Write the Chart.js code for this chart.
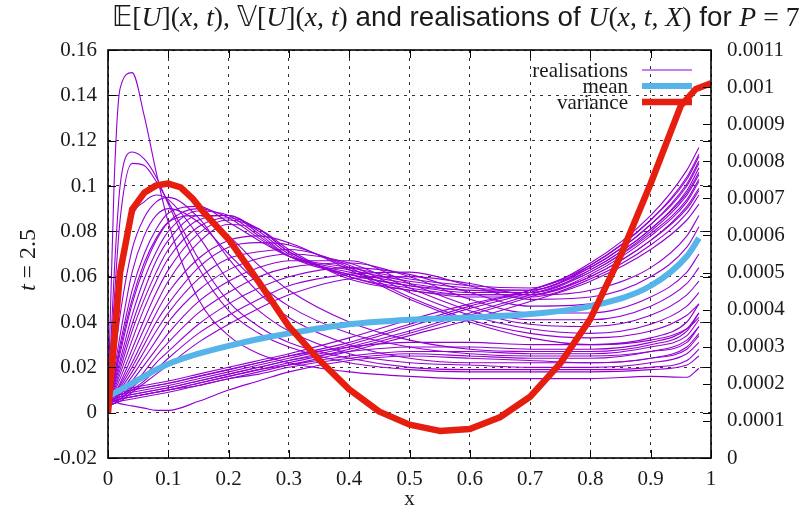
<!DOCTYPE html>
<html lang="en">
<head>
<meta charset="UTF-8">
<script src="https://cdn.jsdelivr.net/npm/chart.js"></script>
<style>
  html, body { margin: 0; padding: 0; background: #fff; }
  #wrap { width: 803px; height: 510px; position: relative; }
</style>
</head>
<body>
<div id="wrap"><canvas id="chart"></canvas></div>
<script>
// x positions shared by the realisations and the mean
const xGrid = [0, 0.01, 0.02, 0.04, 0.06, 0.08, 0.1, 0.15, 0.2, 0.25, 0.3, 0.4, 0.5, 0.6, 0.7, 0.8, 0.9, 0.96, 0.98];

// realisations of U(x, t, X), one row per sample
const realisations = [
  [0.004, 0.100, 0.143, 0.150, 0.131, 0.106, 0.084, 0.050, 0.034, 0.026, 0.022, 0.018, 0.016, 0.015, 0.015, 0.015, 0.016, 0.0156, 0.0196],
  [0.004, 0.060, 0.100, 0.115, 0.112, 0.104, 0.092, 0.064, 0.045, 0.035, 0.029, 0.022, 0.019, 0.018, 0.018, 0.018, 0.019, 0.021, 0.025],
  [0.004, 0.048, 0.085, 0.110, 0.109, 0.102, 0.093, 0.068, 0.049, 0.038, 0.031, 0.024, 0.020, 0.019, 0.019, 0.019, 0.020, 0.023, 0.028],
  [0.004, 0.030, 0.058, 0.086, 0.093, 0.096, 0.094, 0.078, 0.058, 0.045, 0.036, 0.026, 0.022, 0.021, 0.020, 0.020, 0.022, 0.026, 0.031],
  [0.004, 0.022, 0.043, 0.072, 0.086, 0.093, 0.095, 0.086, 0.068, 0.053, 0.042, 0.030, 0.024, 0.022, 0.022, 0.022, 0.024, 0.029, 0.035],
  [0.004, 0.018, 0.034, 0.062, 0.078, 0.087, 0.090, 0.084, 0.070, 0.057, 0.047, 0.035, 0.029, 0.026, 0.025, 0.025, 0.027, 0.031, 0.038],
  [0.004, 0.015, 0.028, 0.050, 0.066, 0.077, 0.084, 0.087, 0.078, 0.065, 0.054, 0.040, 0.032, 0.028, 0.027, 0.027, 0.030, 0.036, 0.044],
  [0.004, 0.016, 0.030, 0.054, 0.070, 0.081, 0.088, 0.091, 0.084, 0.076, 0.069, 0.064, 0.059, 0.056, 0.055, 0.066, 0.087, 0.107, 0.117],
  [0.004, 0.014, 0.026, 0.048, 0.064, 0.076, 0.084, 0.090, 0.086, 0.077, 0.069, 0.063, 0.058, 0.055, 0.054, 0.065, 0.085, 0.104, 0.114],
  [0.004, 0.013, 0.023, 0.043, 0.059, 0.071, 0.080, 0.089, 0.087, 0.078, 0.069, 0.062, 0.057, 0.054, 0.054, 0.064, 0.083, 0.101, 0.111],
  [0.004, 0.012, 0.021, 0.039, 0.054, 0.067, 0.076, 0.087, 0.087, 0.079, 0.069, 0.061, 0.056, 0.054, 0.053, 0.063, 0.081, 0.098, 0.108],
  [0.004, 0.011, 0.019, 0.036, 0.050, 0.062, 0.072, 0.085, 0.087, 0.080, 0.070, 0.061, 0.056, 0.053, 0.053, 0.062, 0.080, 0.096, 0.105],
  [0.004, 0.010, 0.017, 0.032, 0.046, 0.058, 0.068, 0.082, 0.086, 0.081, 0.071, 0.060, 0.055, 0.052, 0.052, 0.061, 0.078, 0.093, 0.102],
  [0.004, 0.009, 0.015, 0.028, 0.041, 0.053, 0.063, 0.079, 0.085, 0.081, 0.071, 0.060, 0.054, 0.052, 0.052, 0.060, 0.076, 0.091, 0.099],
  [0.004, 0.008, 0.013, 0.025, 0.037, 0.048, 0.058, 0.075, 0.083, 0.081, 0.072, 0.059, 0.054, 0.051, 0.051, 0.059, 0.074, 0.088, 0.096],
  [0.004, 0.007, 0.012, 0.022, 0.033, 0.044, 0.053, 0.068, 0.076, 0.078, 0.075, 0.063, 0.050, 0.040, 0.033, 0.030, 0.032, 0.037, 0.042],
  [0.004, 0.007, 0.011, 0.020, 0.030, 0.040, 0.048, 0.064, 0.073, 0.075, 0.074, 0.064, 0.051, 0.041, 0.035, 0.033, 0.036, 0.043, 0.048],
  [0.004, 0.006, 0.010, 0.018, 0.027, 0.036, 0.044, 0.059, 0.068, 0.071, 0.072, 0.065, 0.053, 0.043, 0.037, 0.035, 0.039, 0.047, 0.053],
  [0.004, 0.006, 0.009, 0.016, 0.024, 0.032, 0.040, 0.054, 0.063, 0.068, 0.070, 0.066, 0.055, 0.045, 0.039, 0.038, 0.043, 0.052, 0.058],
  [0.004, 0.006, 0.008, 0.014, 0.021, 0.028, 0.035, 0.049, 0.058, 0.064, 0.067, 0.067, 0.057, 0.047, 0.041, 0.041, 0.047, 0.057, 0.064],
  [0.003, 0.005, 0.007, 0.012, 0.018, 0.025, 0.031, 0.044, 0.053, 0.060, 0.064, 0.066, 0.060, 0.050, 0.044, 0.044, 0.051, 0.062, 0.070],
  [0.003, 0.004, 0.006, 0.011, 0.016, 0.022, 0.027, 0.039, 0.048, 0.055, 0.060, 0.064, 0.061, 0.053, 0.047, 0.048, 0.056, 0.068, 0.076],
  [0.003, 0.004, 0.006, 0.010, 0.014, 0.019, 0.024, 0.035, 0.043, 0.050, 0.056, 0.061, 0.062, 0.056, 0.050, 0.051, 0.060, 0.073, 0.082],
  [0.003, 0.004, 0.005, 0.009, 0.013, 0.017, 0.021, 0.031, 0.039, 0.046, 0.052, 0.059, 0.060, 0.057, 0.052, 0.054, 0.064, 0.078, 0.087],
  [0.008, 0.009, 0.010, 0.011, 0.012, 0.013, 0.014, 0.017, 0.020, 0.023, 0.026, 0.033, 0.041, 0.048, 0.054, 0.064, 0.083, 0.100, 0.110],
  [0.007, 0.008, 0.009, 0.010, 0.011, 0.012, 0.013, 0.016, 0.019, 0.022, 0.025, 0.031, 0.039, 0.047, 0.054, 0.065, 0.085, 0.103, 0.113],
  [0.006, 0.007, 0.008, 0.009, 0.010, 0.011, 0.012, 0.015, 0.018, 0.021, 0.024, 0.030, 0.038, 0.046, 0.053, 0.063, 0.081, 0.097, 0.106],
  [0.005, 0.006, 0.007, 0.008, 0.009, 0.010, 0.011, 0.014, 0.017, 0.020, 0.023, 0.029, 0.036, 0.044, 0.052, 0.062, 0.079, 0.094, 0.103],
  [0.005, 0.0055, 0.006, 0.007, 0.008, 0.009, 0.010, 0.013, 0.016, 0.019, 0.022, 0.028, 0.035, 0.043, 0.051, 0.060, 0.076, 0.090, 0.098],
  [0.004, 0.005, 0.006, 0.007, 0.008, 0.009, 0.010, 0.012, 0.015, 0.018, 0.021, 0.027, 0.034, 0.041, 0.049, 0.058, 0.072, 0.085, 0.092],
  [0.006, 0.007, 0.008, 0.010, 0.011, 0.012, 0.013, 0.016, 0.019, 0.022, 0.025, 0.029, 0.031, 0.031, 0.030, 0.030, 0.033, 0.040, 0.048],
  [0.005, 0.006, 0.007, 0.008, 0.009, 0.010, 0.011, 0.014, 0.017, 0.020, 0.023, 0.027, 0.029, 0.029, 0.028, 0.028, 0.031, 0.037, 0.044],
  [0.004, 0.005, 0.006, 0.007, 0.008, 0.009, 0.010, 0.013, 0.016, 0.019, 0.021, 0.025, 0.027, 0.027, 0.026, 0.026, 0.029, 0.034, 0.041],
  [0.003, 0.004, 0.005, 0.006, 0.007, 0.008, 0.009, 0.012, 0.015, 0.017, 0.020, 0.024, 0.026, 0.025, 0.024, 0.024, 0.027, 0.032, 0.038],
  [0.006, 0.005, 0.004, 0.003, 0.002, 0.001, 0.001, 0.005, 0.010, 0.014, 0.018, 0.023, 0.025, 0.024, 0.023, 0.022, 0.024, 0.028, 0.034]
];

// E[U](x, t)
const meanU = [0.007, 0.0085, 0.010, 0.013, 0.016, 0.019, 0.0215, 0.026, 0.0295, 0.0325, 0.035, 0.039, 0.041, 0.042, 0.0435, 0.047, 0.056, 0.069, 0.077];

// V[U](x, t), right axis
const varX = [0, 0.02, 0.04, 0.06, 0.08, 0.1, 0.12, 0.14, 0.16, 0.18, 0.2, 0.25, 0.3, 0.35, 0.4, 0.45, 0.5, 0.55, 0.6, 0.65, 0.7, 0.75, 0.8, 0.85, 0.9, 0.95, 0.975, 1.0];
const varU = [0.000122, 0.0005, 0.00067, 0.000715, 0.000735, 0.00074, 0.00073, 0.0007, 0.00066, 0.000625, 0.00059, 0.000475, 0.000355, 0.000265, 0.000185, 0.000125, 0.00009, 0.000073, 0.000078, 0.00011, 0.000165, 0.000255, 0.000375, 0.000545, 0.00074, 0.00095, 0.000995, 0.00101];

const TEXT = '#1a1a1a';
const SERIF = '"Liberation Serif", "DejaVu Serif", serif';

const datasets = realisations.map((r, k) => ({
  label: k === 0 ? 'realisations' : '',
  data: xGrid.map((x, i) => ({ x: x, y: r[i] })),
  borderColor: '#9400d3',
  borderWidth: 1.1,
  pointRadius: 0,
  cubicInterpolationMode: 'monotone',
  yAxisID: 'y',
  order: 2
}));
datasets.push({
  label: 'mean',
  data: xGrid.map((x, i) => ({ x: x, y: meanU[i] })),
  borderColor: '#56b4e9',
  borderWidth: 6,
  pointRadius: 0,
  cubicInterpolationMode: 'monotone',
  yAxisID: 'y',
  order: 1
});
datasets.push({
  label: 'variance',
  data: varX.map((x, i) => ({ x: x, y: varU[i] })),
  borderColor: '#e51e10',
  borderWidth: 6.5,
  pointRadius: 0,
  borderJoinStyle: 'round',
  yAxisID: 'y2',
  order: 0
});

// title and y label with mixed upright / italic parts
const titleParts = [
  ['𝔼', 'bb'], ['[', 'rm'], ['U', 'it'], ['](', 'rm'], ['x', 'it'], [', ', 'rm'], ['t', 'it'], ['), ', 'rm'],
  ['𝕍', 'bb'], ['[', 'rm'], ['U', 'it'], ['](', 'rm'], ['x', 'it'], [', ', 'rm'], ['t', 'it'], [')', 'rm'],
  [' and realisations of ', 'sf'],
  ['U', 'it'], ['(', 'rm'], ['x', 'it'], [', ', 'rm'], ['t', 'it'], [', ', 'rm'], ['X', 'it'], [')', 'rm'],
  [' for ', 'sf'], ['P', 'it'], [' = 7', 'rm']
];
const yLabelParts = [['t', 'it'], [' = 2.5', 'rm']];

function fontFor(kind, size) {
  if (kind === 'it') return 'italic ' + size + 'px ' + SERIF;
  if (kind === 'sf') return size + 'px "Liberation Sans", Arial, sans-serif';
  if (kind === 'bb') return size + 'px "DejaVu Sans", sans-serif';
  return size + 'px ' + SERIF;
}

function drawParts(ctx, parts, x, y, size) {
  let cx = x;
  parts.forEach(p => {
    ctx.font = fontFor(p[1], size);
    ctx.fillText(p[0], cx, y);
    cx += ctx.measureText(p[0]).width;
  });
}

function partsWidth(ctx, parts, size) {
  let w = 0;
  parts.forEach(p => {
    ctx.font = fontFor(p[1], size);
    w += ctx.measureText(p[0]).width;
  });
  return w;
}

const textPlugin = {
  id: 'texts',
  afterDraw(chart) {
    const ctx = chart.ctx;
    ctx.save();
    ctx.fillStyle = TEXT;
    ctx.textBaseline = 'alphabetic';
    ctx.textAlign = 'left';
    // title, fitted to the span it has in the picture
    let size = 24;
    const w = partsWidth(ctx, titleParts, size);
    size = size * 688 / w;
    drawParts(ctx, titleParts, 112, 26, size);
    // y axis label, rotated
    ctx.translate(35, 260);
    ctx.rotate(-Math.PI / 2);
    const yw = partsWidth(ctx, yLabelParts, 24);
    drawParts(ctx, yLabelParts, -yw / 2, 0, 24);
    ctx.restore();
  }
};

const legendPlugin = {
  id: 'keybox',
  beforeDatasetsDraw(chart) {
    const ctx = chart.ctx;
    const items = chart.data.datasets.filter(d => d.label);
    ctx.save();
    ctx.font = '21px ' + SERIF;
    ctx.textAlign = 'right';
    ctx.textBaseline = 'middle';
    items.forEach((d, i) => {
      const y = 70 + i * 16;
      ctx.fillStyle = TEXT;
      ctx.fillText(d.label, 628, y + 1);
      ctx.strokeStyle = d.borderColor;
      ctx.lineWidth = d.borderWidth;
      ctx.beginPath();
      ctx.moveTo(642, y);
      ctx.lineTo(692, y);
      ctx.stroke();
    });
    ctx.restore();
  }
};

// gnuplot style frame with inward ticks on all sides
const framePlugin = {
  id: 'frame',
  afterDatasetsDraw(chart) {
    const ctx = chart.ctx;
    const a = chart.chartArea;
    const sx = chart.scales.x, sy = chart.scales.y, sy2 = chart.scales.y2;
    const L = 8;
    ctx.save();
    ctx.strokeStyle = '#000';
    ctx.lineWidth = 1;
    ctx.beginPath();
    sx.ticks.forEach(t => {
      const px = Math.round(sx.getPixelForValue(t.value)) + 0.5;
      ctx.moveTo(px, a.bottom); ctx.lineTo(px, a.bottom - L);
      ctx.moveTo(px, a.top); ctx.lineTo(px, a.top + L);
    });
    sy.ticks.forEach(t => {
      const py = Math.round(sy.getPixelForValue(t.value)) + 0.5;
      ctx.moveTo(a.left, py); ctx.lineTo(a.left + L, py);
      ctx.moveTo(a.right, py); ctx.lineTo(a.right - L, py);
    });
    sy2.ticks.forEach(t => {
      const py = Math.round(sy2.getPixelForValue(t.value)) + 0.5;
      ctx.moveTo(a.right, py); ctx.lineTo(a.right - L, py);
    });
    ctx.stroke();
    ctx.lineWidth = 1.6;
    ctx.strokeRect(a.left, a.top, a.right - a.left, a.bottom - a.top);
    ctx.restore();
  }
};

const tickFont = { family: SERIF, size: 21 };

new Chart(document.getElementById('chart'), {
  type: 'line',
  data: { datasets: datasets },
  plugins: [legendPlugin, framePlugin, textPlugin],
  options: {
    responsive: true,
    maintainAspectRatio: false,
    animation: false,
    devicePixelRatio: 1,
    layout: { padding: { top: 50, left: 0, right: 0, bottom: 0 } },
    plugins: {
      legend: { display: false },
      title: { display: false },
      tooltip: { enabled: false }
    },
    scales: {
      x: {
        type: 'linear',
        min: 0,
        max: 1,
        afterFit(s) { s.height = 52; },
        ticks: {
          stepSize: 0.1,
          color: TEXT,
          font: tickFont,
          padding: 9,
          maxRotation: 0,
          callback: v => String(Math.round(v * 10) / 10)
        },
        grid: { color: 'rgba(0,0,0,0.8)', lineWidth: 1, drawTicks: false },
        border: { display: false, dash: [3, 5] },
        title: { display: true, text: 'x', color: TEXT, font: { family: SERIF, size: 21 }, padding: { top: 0, bottom: -2 } }
      },
      y: {
        type: 'linear',
        position: 'left',
        min: -0.02,
        max: 0.16,
        afterFit(s) { s.width = 108; },
        ticks: {
          stepSize: 0.02,
          color: TEXT,
          font: tickFont,
          padding: 11,
          callback: v => String(Math.round(v * 100) / 100)
        },
        grid: { color: 'rgba(0,0,0,0.8)', lineWidth: 1, drawTicks: false },
        border: { display: false, dash: [3, 5] }
      },
      y2: {
        type: 'linear',
        position: 'right',
        min: 0,
        max: 0.0011,
        afterFit(s) { s.width = 92; },
        ticks: {
          stepSize: 0.0001,
          color: TEXT,
          font: tickFont,
          padding: 16,
          callback: v => String(Math.round(v * 10000) / 10000)
        },
        grid: { drawOnChartArea: false, drawTicks: false },
        border: { display: false }
      }
    }
  }
});
</script>
</body>
</html>
